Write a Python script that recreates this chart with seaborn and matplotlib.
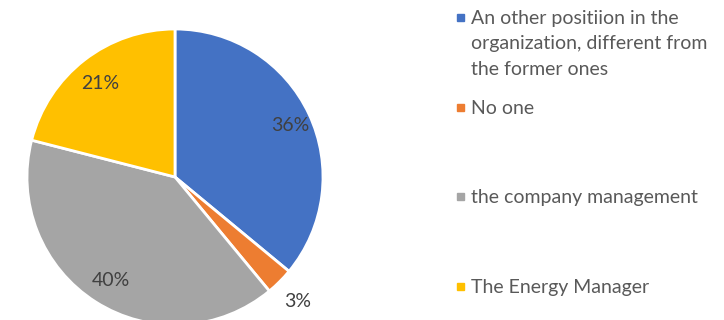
import numpy as np
import matplotlib
matplotlib.use("Agg")
import matplotlib.pyplot as plt
import seaborn as sns

# Who is in charge of energy topics
categories = [
    "An other positiion in the\norganization, different from\nthe former ones",
    "No one",
    "the company management",
    "The Energy Manager",
]
shares = [36, 3, 40, 21]
slice_colors = ["#4472C4", "#ED7D31", "#A5A5A5", "#FFC000"]

sns.set_theme(style="white")
plt.rcParams["font.family"] = ["Lato", "DejaVu Sans"]

W, H, DPI = 724, 320, 100
fig = plt.figure(figsize=(W / DPI, H / DPI), dpi=DPI)

# square axes holding the pie (pixel geometry)
cx, cy, r = 175, 177, 148
ax = fig.add_axes([(cx - r) / W, (H - cy - r) / H, 2 * r / W, 2 * r / H])
palette = sns.color_palette(slice_colors)
wedges, _ = ax.pie(
    shares,
    colors=palette,
    startangle=90,
    counterclock=False,
    radius=1.0,
    wedgeprops=dict(edgecolor="white", linewidth=2),
)
ax.set_xlim(-1, 1)
ax.set_ylim(-1, 1)
ax.set_aspect("equal")
ax.axis("off")

# percentage labels placed along each wedge's mid-angle
label_dist = [0.86, 1.17, 0.81, 0.82]
for w, val, d in zip(wedges, shares, label_dist):
    mid = np.deg2rad((w.theta1 + w.theta2) / 2)
    ax.text(d * np.cos(mid), d * np.sin(mid) - 0.015, f"{val}%",
            ha="center", va="center", fontsize=14, color="#404040",
            clip_on=False)

# legend drawn as square markers with wrapped labels
legend_row = [17, 107, 196, 286]   # centre of each entry's first line, px from top
for lab, col, y in zip(categories, palette, legend_row):
    fig.patches.append(plt.Rectangle((457 / W, (H - y - 3.5) / H), 7 / W, 7 / H,
                                     transform=fig.transFigure, color=col,
                                     figure=fig))
    fig.text(471 / W, (H - y + 7) / H, lab, ha="left", va="top",
             fontsize=14, color="#595959", linespacing=1.6)

fig.savefig("out.png", dpi=DPI)
